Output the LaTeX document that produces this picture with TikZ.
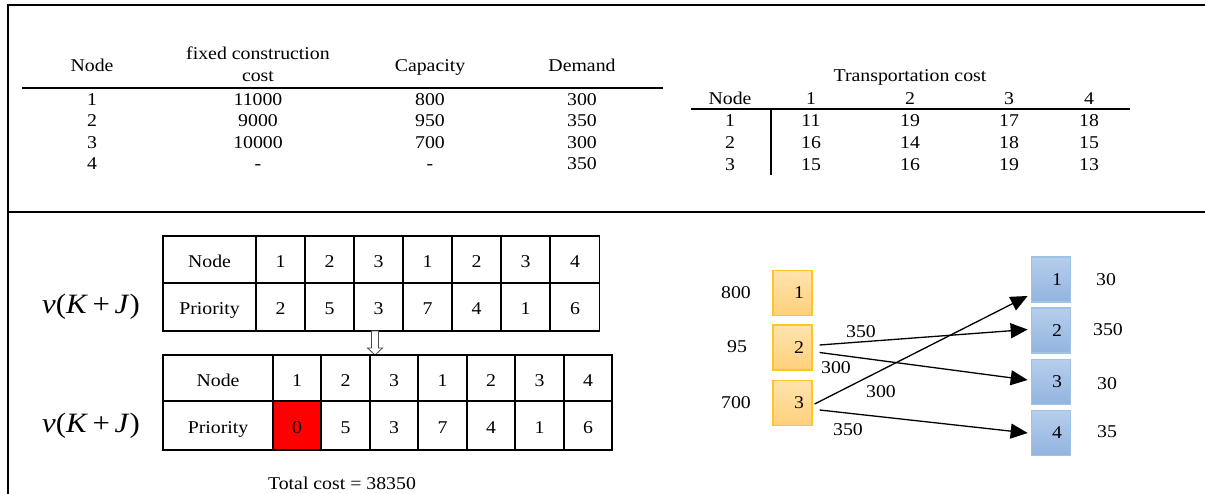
\documentclass[tikz,border=0pt]{standalone}
\usepackage{fontspec}
\setmainfont{Liberation Serif}[FakeStretch=1.1]
\usetikzlibrary{arrows.meta,calc}

\definecolor{supTop}{HTML}{FFE3AE}
\definecolor{supBot}{HTML}{FFD07A}
\definecolor{supEdge}{HTML}{FFC526}
\definecolor{cusTop}{HTML}{B7CEEC}
\definecolor{cusBot}{HTML}{92B4E0}
\definecolor{cusEdge}{HTML}{9DC3E6}

\tikzset{
  txt/.style={inner sep=0pt, font=\fontsize{18}{21}\selectfont, text height=1.45ex, text depth=0pt, yshift=-2pt},
  frameline/.style={line width=2.5pt},
  rule/.style={line width=2pt},
  cell/.style={draw, line width=1.8pt, inner sep=0pt, font=\fontsize{18}{21}\selectfont,
               text height=16pt, text depth=0pt},
  vlabel/.style={inner sep=0pt, font=\fontsize{28}{31}\selectfont},
  supply/.style={draw=supEdge, line width=1.2pt, top color=supTop, bottom color=supBot,
                 minimum width=39pt, minimum height=45pt, inner sep=0pt,
                 font=\fontsize{18}{21}\selectfont},
  customer/.style={draw=cusEdge, line width=1.2pt, top color=cusTop, bottom color=cusBot,
                 minimum width=38.5pt, minimum height=45pt, inner sep=0pt,
                 font=\fontsize{18}{21}\selectfont},
  flow/.style={line width=1.3pt, -{Triangle[length=17pt,width=15pt]}},
  hollowarrow/.style={draw=black!70, line width=0.8pt, fill=white}
}

\begin{document}
\begin{tikzpicture}[x=1pt, y=-1pt]
\useasboundingbox (0,0) rectangle (1205,494);

% frame lines
\draw[frameline] (8,494) -- (8,5) -- (1205,5);
\draw[frameline] (8,212) -- (1205,212);

% ---------- facility data table ----------
\node[txt] (hNode) at (92,66) {Node};
\node[txt] (hCost1) at (258,54) {fixed construction};
\node[txt] (hCost2) at (258,76) {cost};
\node[txt] (hCap) at (430,66) {Capacity};
\node[txt] (hDem) at (582,66) {Demand};
\draw[rule] (22,88) -- (663,88);
\foreach \n/\c/\k/\d/\y in {1/11000/800/300/100, 2/9000/950/350/121, 3/10000/700/300/143, 4/-/-/350/164}{
  \node[txt] (fn\n) at (92,\y) {\n};
  \node[txt] (fc\n) at (258,\y) {\c};
  \node[txt] (fk\n) at (430,\y) {\k};
  \node[txt] (fd\n) at (582,\y) {\d};
}

% ---------- transportation cost table ----------
\node[txt] (tTitle) at (910,76) {Transportation cost};
\node[txt] (tNode) at (730,99) {Node};
\foreach \j/\x in {1/811, 2/910, 3/1009, 4/1089}{
  \node[txt] (tc\j) at (\x,99) {\j};
}
\draw[rule] (691,109) -- (1130,109);
\draw[rule] (771,109) -- (771,175);
\foreach \i/\y/\a/\b/\c/\d in {1/121/11/19/17/18, 2/143/16/14/18/15, 3/165/15/16/19/13}{
  \node[txt] (tr\i) at (730,\y) {\i};
  \node[txt] (t\i a) at (811,\y) {\a};
  \node[txt] (t\i b) at (910,\y) {\b};
  \node[txt] (t\i c) at (1009,\y) {\c};
  \node[txt] (t\i d) at (1089,\y) {\d};
}

% ---------- priority vector, before ----------
\node[vlabel] (vA) at (91,307) {\textit{v}(\textit{K}\,+\,\textit{J})};
\node[cell, minimum width=93pt, minimum height=47pt] (aN) at (209.5,259.5) {Node};
\node[cell, minimum width=93pt, minimum height=48pt] (aP) at (209.5,307) {Priority};
\foreach \k/\x/\n/\p in {1/280.5/1/2, 2/329.5/2/5, 3/378.5/3/3, 4/427.5/1/7, 5/476.5/2/4, 6/525.5/3/1, 7/575/4/6}{
  \node[cell, minimum width=49pt, minimum height=47pt] (aN\k) at (\x,259.5) {\n};
  \node[cell, minimum width=49pt, minimum height=48pt] (aP\k) at (\x,307) {\p};
}

% hollow arrow between the two vectors
\coordinate (arTop) at (375,331);
\coordinate (arTip) at (375,355);
\path[hollowarrow] ($(arTop)+(-3.5,0)$) -- ($(arTop)+(3.5,0)$) -- ($(arTop)+(3.5,17)$)
  -- ($(arTop)+(7.5,17)$) -- (arTip) -- ($(arTop)+(-7.5,17)$) -- ($(arTop)+(-3.5,17)$) -- cycle;

% ---------- priority vector, after ----------
\node[vlabel] (vB) at (91,426) {\textit{v}(\textit{K}\,+\,\textit{J})};
\node[cell, minimum width=110pt, minimum height=46pt] (bN) at (218,378) {Node};
\node[cell, minimum width=110pt, minimum height=49pt] (bP) at (218,425.5) {Priority};
\node[cell, minimum width=48.5pt, minimum height=46pt] (bN1) at (297,378) {1};
\node[cell, minimum width=48.5pt, minimum height=49pt, fill=red] (bP1) at (297,425.5) {0};
\foreach \k/\x/\n/\p in {2/345.5/2/5, 3/394/3/3, 4/442.5/1/7, 5/491/2/4, 6/539.5/3/1, 7/588/4/6}{
  \node[cell, minimum width=48.5pt, minimum height=46pt] (bN\k) at (\x,378) {\n};
  \node[cell, minimum width=48.5pt, minimum height=49pt] (bP\k) at (\x,425.5) {\p};
}
\node[txt] (total) at (342,484) {Total cost = 38350};

% ---------- allocation network ----------
\node[supply] (o1) at (792.5,293) {\hspace*{13pt}1};
\node[supply] (o2) at (792.5,347.5) {\hspace*{13pt}2};
\node[supply] (o3) at (792.5,403) {\hspace*{13pt}3};
\node[customer] (b1) at (1051,279.5) {\hspace*{12pt}1};
\node[customer] (b2) at (1051,330.5) {\hspace*{12pt}2};
\node[customer] (b3) at (1051,382) {\hspace*{12pt}3};
\node[customer] (b4) at (1051,433) {\hspace*{12pt}4};

\node[txt] (cap1) at (736,293) {800};
\node[txt] (cap2) at (737,347) {95};
\node[txt] (cap3) at (736,403) {700};
\node[txt] (dem1) at (1106,280) {30};
\node[txt] (dem2) at (1108,330) {350};
\node[txt] (dem3) at (1107,384) {30};
\node[txt] (dem4) at (1107,432) {35};

\draw[flow] ($(o2.east)+(7,-2.5)$) -- ($(b2.west)+(-3.5,-1)$);
\draw[flow] ($(o2.east)+(7,5)$) -- ($(b3.west)+(-3.5,-2)$);
\draw[flow] ($(o3.east)+(2,1)$) -- ($(b1.west)+(-3.5,16.5)$);
\draw[flow] ($(o3.east)+(7,7)$) -- ($(b4.west)+(-3.5,0)$);

\node[txt] (f1) at (861,332) {350};
\node[txt] (f2) at (836,368) {300};
\node[txt] (f3) at (881,392) {300};
\node[txt] (f4) at (848,430) {350};
\end{tikzpicture}
\end{document}
